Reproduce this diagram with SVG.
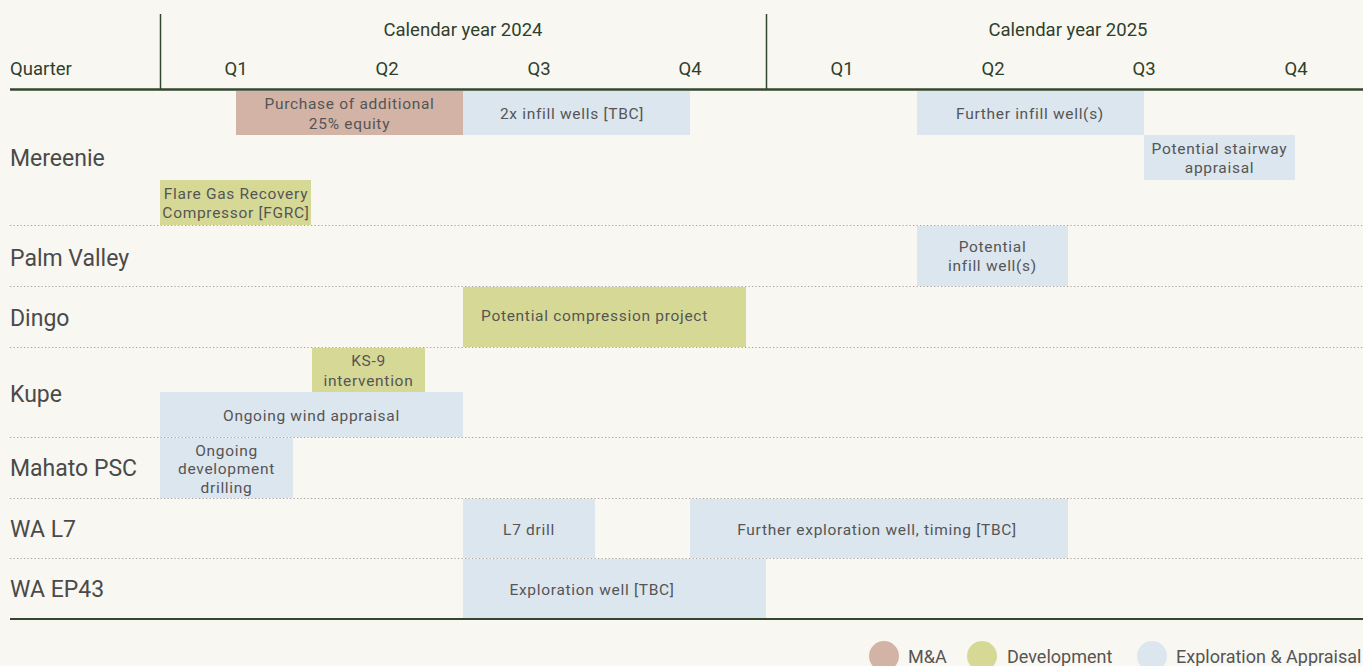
<svg xmlns="http://www.w3.org/2000/svg" width="1363" height="666" viewBox="0 0 1363 666">
<style>
.bg{fill:#f9f7f1}
.ma{fill:#d2b3a6}
.dev{fill:#d6d995}
.ea{fill:#dce6ef}
.hdr{font-family:"Roboto","Liberation Sans",sans-serif;font-size:18.5px;fill:#2e3f2c}
.row{font-family:"Roboto","Liberation Sans",sans-serif;font-size:23px;fill:#4a4a4a}
.bt{font-family:"Roboto","Liberation Sans",sans-serif;font-size:15.5px;fill:#555;text-anchor:middle;letter-spacing:0.7px}
.leg{font-family:"Roboto","Liberation Sans",sans-serif;font-size:18px;fill:#555}
.dot{stroke:#a0a0a0;stroke-width:1.2;stroke-dasharray:1.2 2.3}
.solid{stroke:#33472f}
</style>
<rect class="bg" x="0" y="0" width="1363" height="666"/>
<g id="header">
<line class="solid" x1="160.5" y1="14" x2="160.5" y2="89" stroke-width="1.5"/>
<line class="solid" x1="766.5" y1="14" x2="766.5" y2="89" stroke-width="1.5"/>
<text class="hdr" x="463" y="36" text-anchor="middle">Calendar year 2024</text>
<text class="hdr" x="1068" y="36" text-anchor="middle">Calendar year 2025</text>
<text class="hdr" x="10" y="75">Quarter</text>
<text class="hdr" x="236" y="75" text-anchor="middle">Q1</text>
<text class="hdr" x="387" y="75" text-anchor="middle">Q2</text>
<text class="hdr" x="539" y="75" text-anchor="middle">Q3</text>
<text class="hdr" x="690" y="75" text-anchor="middle">Q4</text>
<text class="hdr" x="842" y="75" text-anchor="middle">Q1</text>
<text class="hdr" x="993" y="75" text-anchor="middle">Q2</text>
<text class="hdr" x="1144" y="75" text-anchor="middle">Q3</text>
<text class="hdr" x="1296" y="75" text-anchor="middle">Q4</text>
</g>
<g id="connectors">
<line class="solid" x1="10" y1="89.5" x2="1363" y2="89.5" stroke-width="2.5"/>
<line class="dot" x1="10" y1="225.5" x2="1363" y2="225.5"/>
<line class="dot" x1="10" y1="286.5" x2="1363" y2="286.5"/>
<line class="dot" x1="10" y1="347.5" x2="1363" y2="347.5"/>
<line class="dot" x1="10" y1="437.5" x2="1363" y2="437.5"/>
<line class="dot" x1="10" y1="498.5" x2="1363" y2="498.5"/>
<line class="dot" x1="10" y1="558.5" x2="1363" y2="558.5"/>
</g>
<g id="mereenie">
<text class="row" x="10" y="166">Mereenie</text>
<rect class="ma" x="236" y="91" width="227" height="44"/>
<text class="bt" x="349.5" y="109">Purchase of additional</text>
<text class="bt" x="349.5" y="129">25% equity</text>
<rect class="ea" x="463" y="91" width="227" height="44"/>
<text class="bt" x="572" y="119">2x infill wells [TBC]</text>
<rect class="ea" x="917" y="91" width="227" height="44"/>
<text class="bt" x="1030" y="119">Further infill well(s)</text>
<rect class="ea" x="1144" y="135" width="151" height="45"/>
<text class="bt" x="1219.5" y="154">Potential stairway</text>
<text class="bt" x="1219.5" y="173">appraisal</text>
<rect class="dev" x="160" y="180" width="151" height="45"/>
<text class="bt" x="236" y="199">Flare Gas Recovery</text>
<text class="bt" x="236" y="218">Compressor [FGRC]</text>
</g>
<g id="palm-valley">
<text class="row" x="10" y="266">Palm Valley</text>
<rect class="ea" x="917" y="226" width="151" height="60"/>
<text class="bt" x="992.5" y="252">Potential</text>
<text class="bt" x="992.5" y="271">infill well(s)</text>
</g>
<g id="dingo">
<text class="row" x="10" y="326">Dingo</text>
<rect class="dev" x="463" y="287" width="283" height="60"/>
<text class="bt" x="481" y="321" style="text-anchor:start">Potential compression project</text>
</g>
<g id="kupe">
<text class="row" x="10" y="402">Kupe</text>
<rect class="dev" x="312" y="348" width="113" height="44"/>
<text class="bt" x="368.5" y="366">KS-9</text>
<text class="bt" x="368.5" y="386">intervention</text>
<rect class="ea" x="160" y="392" width="303" height="45"/>
<text class="bt" x="311.5" y="421">Ongoing wind appraisal</text>
</g>
<g id="mahato">
<text class="row" x="10" y="476">Mahato PSC</text>
<rect class="ea" x="160" y="438" width="133" height="60"/>
<text class="bt" x="226.5" y="456">Ongoing</text>
<text class="bt" x="226.5" y="474">development</text>
<text class="bt" x="226.5" y="493">drilling</text>
</g>
<g id="wa-l7">
<text class="row" x="10" y="537">WA L7</text>
<rect class="ea" x="463" y="499" width="132" height="59"/>
<text class="bt" x="529" y="535">L7 drill</text>
<rect class="ea" x="690" y="499" width="378" height="59"/>
<text class="bt" x="877" y="535">Further exploration well, timing [TBC]</text>
</g>
<g id="wa-ep43">
<text class="row" x="10" y="597">WA EP43</text>
<rect class="ea" x="463" y="559" width="303" height="60"/>
<text class="bt" x="592" y="595">Exploration well [TBC]</text>
</g>
<line class="solid" x1="10" y1="619" x2="1363" y2="619" stroke-width="1.8"/>
<g id="legend">
<circle class="ma" cx="884" cy="656" r="15"/>
<text class="leg" x="908" y="663">M&amp;A</text>
<circle class="dev" cx="982" cy="656" r="15"/>
<text class="leg" x="1007" y="663">Development</text>
<circle class="ea" cx="1152" cy="656" r="15"/>
<text class="leg" x="1176" y="663">Exploration &amp; Appraisal</text>
</g>
</svg>
